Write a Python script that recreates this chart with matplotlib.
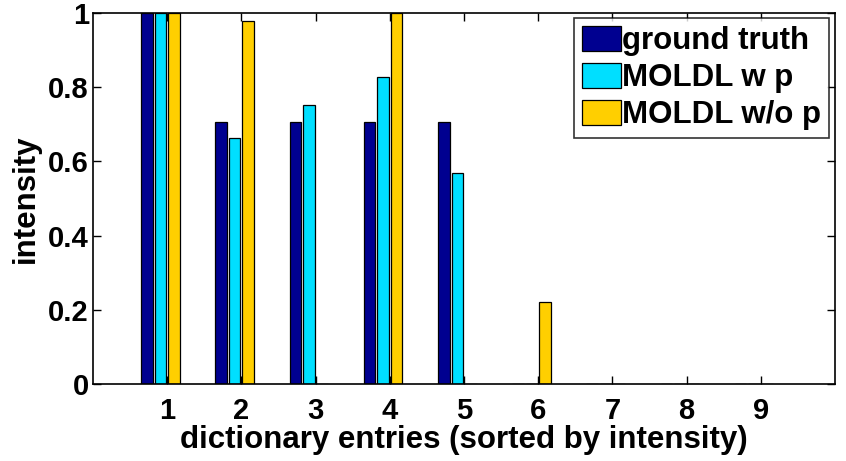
import numpy as np
import matplotlib
matplotlib.use("Agg")
import matplotlib.pyplot as plt

# dictionary entries 1..9, intensity per method
entries = [1, 2, 3, 4, 5, 6, 7, 8, 9]
ground_truth = [1.0, 0.707, 0.707, 0.707, 0.707, 0, 0, 0, 0]
moldl_wp = [1.0, 0.662, 0.751, 0.826, 0.569, 0, 0, 0, 0]
moldl_wop = [1.0, 0.977, 0, 1.0, 0, 0.222, 0, 0, 0]
series_names = ["ground truth", "MOLDL w p", "MOLDL w/o p"]

# matlab jet colours for a 4-series bar plot (4th series is empty)
colors = ["#000090", "#00DFFF", "#FFCF00"]

plt.rcParams["font.family"] = ["Liberation Sans", "DejaVu Sans"]
plt.rcParams["font.weight"] = "bold"

fig = plt.figure(figsize=(8.46, 4.61), dpi=100)
ax = fig.add_axes([0.110, 0.167, 0.877, 0.805])

x = np.array(entries)
step = 0.182
offsets = [-1.5 * step, -0.5 * step, 0.5 * step]
for vals, off, col, name in zip([ground_truth, moldl_wp, moldl_wop], offsets, colors, series_names):
    ax.bar(x + off, vals, width=0.155, color=col, edgecolor="black", linewidth=0.9, label=name)

ax.set_xlim(0, 10)
ax.set_ylim(0, 1)
ax.set_xticks(entries)
ax.set_yticks([0, 0.2, 0.4, 0.6, 0.8, 1])
ax.set_yticklabels(["0", "0.2", "0.4", "0.6", "0.8", "1"])
ax.tick_params(direction="in", top=True, right=True, length=6, width=1, labelsize=21)
ax.tick_params(axis="x", pad=9)
ax.tick_params(axis="y", pad=3)
for lab in ax.get_xticklabels() + ax.get_yticklabels():
    lab.set_fontweight("bold")
for sp in ax.spines.values():
    sp.set_linewidth(1.2)

ax.set_xlabel("dictionary entries (sorted by intensity)", fontsize=22.5, fontweight="bold", labelpad=0)
ax.set_ylabel("intensity", fontsize=22.5, fontweight="bold", labelpad=5)

leg = ax.legend(loc="upper right", bbox_to_anchor=(0.992, 0.987), fontsize=22.5, frameon=True, fancybox=False,
                handlelength=1.25, handleheight=0.9, handletextpad=0.05, borderpad=0.25, labelspacing=0.2,
                borderaxespad=0.0)
leg.get_frame().set_edgecolor("black")
leg.get_frame().set_linewidth(1.2)
for t in leg.get_texts():
    t.set_fontweight("bold")

fig.savefig("out.png", dpi=100)
